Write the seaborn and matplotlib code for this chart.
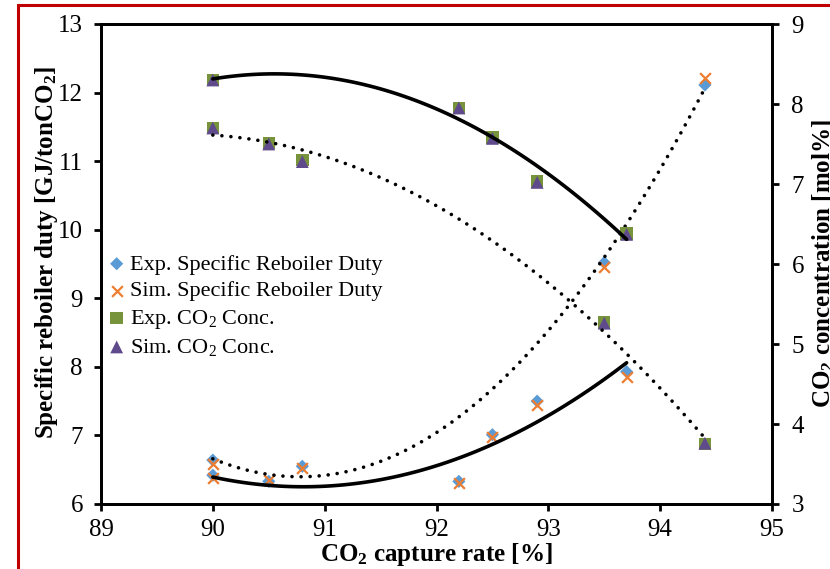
import matplotlib
matplotlib.use("Agg")
import matplotlib.pyplot as plt
import matplotlib.patches as mpatches
import seaborn as sns
import pandas as pd

# ---------------- data ----------------
capture_rate = [90.0, 90.0, 90.5, 90.8, 92.2, 92.5, 92.9, 93.5, 93.7, 94.4]
campaign     = ["B", "A", "B", "B", "A", "A", "A", "B", "A", "B"]   # A: solid trend, B: dotted trend
exp_srd = [6.64, 6.42, 6.33, 6.55, 6.33, 7.01, 7.50, 9.52, 7.93, 12.11]
sim_srd = [6.58, 6.38, 6.35, 6.52, 6.31, 6.98, 7.45, 9.45, 7.85, 12.21]
exp_co2 = [7.70, 8.30, 7.51, 7.30, 7.95, 7.58, 7.03, 5.27, 6.38, 3.75]
sim_co2 = [7.70, 8.30, 7.50, 7.28, 7.95, 7.57, 7.02, 5.26, 6.37, 3.76]

x_ticks = [89, 90, 91, 92, 93, 94, 95]
left_ticks = [6, 7, 8, 9, 10, 11, 12, 13]
right_ticks = [3, 4, 5, 6, 7, 8, 9]

df = pd.DataFrame({"rate": capture_rate, "campaign": campaign,
                   "exp_srd": exp_srd, "sim_srd": sim_srd,
                   "exp_co2": exp_co2, "sim_co2": sim_co2})

# ---------------- style ----------------
plt.rcParams["font.family"] = ["Liberation Serif", "DejaVu Serif"]
plt.rcParams["mathtext.fontset"] = "custom"
plt.rcParams["mathtext.rm"] = "Liberation Serif"
plt.rcParams["mathtext.it"] = "Liberation Serif:italic"
plt.rcParams["mathtext.bf"] = "Liberation Serif:bold"

C_BLUE = "#5B9BD5"
C_ORANGE = "#ED7D31"
C_GREEN = "#77933C"
C_PURPLE = "#5F4B8B"

fig = plt.figure(figsize=(8.30, 5.69), dpi=100)
ax = fig.add_axes([101/830, 1-504/569, (772-101)/830, (504-24)/569])
ax2 = ax.twinx()

# markers
sns.scatterplot(data=df, x="rate", y="exp_srd", ax=ax, marker="D", s=45,
                color=C_BLUE, edgecolor="none", label="Exp. Specific Reboiler Duty", zorder=2)
sns.scatterplot(data=df, x="rate", y="sim_srd", ax=ax, marker="x", s=60,
                color=C_ORANGE, linewidth=1.6, label="Sim. Specific Reboiler Duty", zorder=2)
sns.scatterplot(data=df, x="rate", y="exp_co2", ax=ax2, marker="s", s=80,
                color=C_GREEN, edgecolor="none", label="Exp. CO$_2$ Conc.", zorder=2)
sns.scatterplot(data=df, x="rate", y="sim_co2", ax=ax2, marker="^", s=85,
                color=C_PURPLE, edgecolor="none", label="Sim. CO$_2$ Conc.", zorder=2)

# polynomial (order 2) trendlines
solid_kws = dict(color="black", linewidth=2.6, solid_capstyle="round", zorder=3)
dot_kws = dict(color="black", linewidth=2.6, linestyle=(0, (0.01, 2.5)),
               dash_capstyle="round", zorder=3)
dA = df[df.campaign == "A"]
dB = df[df.campaign == "B"]
sns.regplot(data=dA, x="rate", y="exp_srd", ax=ax, order=2, ci=None, scatter=False,
            line_kws=solid_kws, truncate=True)
sns.regplot(data=dB, x="rate", y="exp_srd", ax=ax, order=2, ci=None, scatter=False,
            line_kws=dot_kws, truncate=True)
sns.regplot(data=dA, x="rate", y="exp_co2", ax=ax2, order=2, ci=None, scatter=False,
            line_kws=solid_kws, truncate=True)
sns.regplot(data=dB, x="rate", y="exp_co2", ax=ax2, order=2, ci=None, scatter=False,
            line_kws=dot_kws, truncate=True)

# axes
ax.set_xlim(89, 95)
ax.set_ylim(6, 13)
ax2.set_ylim(3, 9)
ax.set_xticks(x_ticks)
ax.set_yticks(left_ticks)
ax2.set_yticks(right_ticks)
ax.set_xticklabels([str(t) for t in x_ticks])
ax.set_yticklabels([str(t) for t in left_ticks])
ax2.set_yticklabels([str(t) for t in right_ticks])

for a in (ax, ax2):
    for s in a.spines.values():
        s.set_linewidth(2.0)
        s.set_color("black")
    a.tick_params(direction="out", length=5, width=2.0, labelsize=18, colors="black")
ax.tick_params(axis="y", pad=8)
ax.tick_params(axis="x", pad=6)
ax2.tick_params(axis="y", pad=9)

ax.set_xlabel("CO$_\\mathbf{2}$ capture rate [%]", fontsize=18, fontweight="bold")
ax.set_ylabel("Specific reboiler duty [GJ/tonCO$_\\mathbf{2}$]", fontsize=18, fontweight="bold")
ax2.set_ylabel("CO$_\\mathbf{2}$ concentration [mol%]", fontsize=18, fontweight="bold")
ax.yaxis.set_label_coords(-0.061, 0.523)
ax2.yaxis.set_label_coords(1.057, 0.5)
ax.xaxis.set_label_coords(0.5, -0.078)

# legend
for a in (ax, ax2):
    lg = a.get_legend()
    if lg is not None:
        lg.remove()
h1, l1 = ax.get_legend_handles_labels()
h2, l2 = ax2.get_legend_handles_labels()
leg = ax2.legend(h1 + h2, l1 + l2, loc="upper left",
                 bbox_to_anchor=(110/830, 1-254/569), bbox_transform=fig.transFigure,
                 frameon=False, fontsize=16, handlelength=0.6, handletextpad=0.3,
                 labelspacing=0.28, borderaxespad=0, borderpad=0)

# red outer frame
fig.patches.append(mpatches.Rectangle((18/830, -0.1), 1.2, 1 - 5/569 + 0.1,
                                      transform=fig.transFigure, fill=False,
                                      edgecolor="#C00000", linewidth=2.2))

fig.savefig("out.png", dpi=100)
